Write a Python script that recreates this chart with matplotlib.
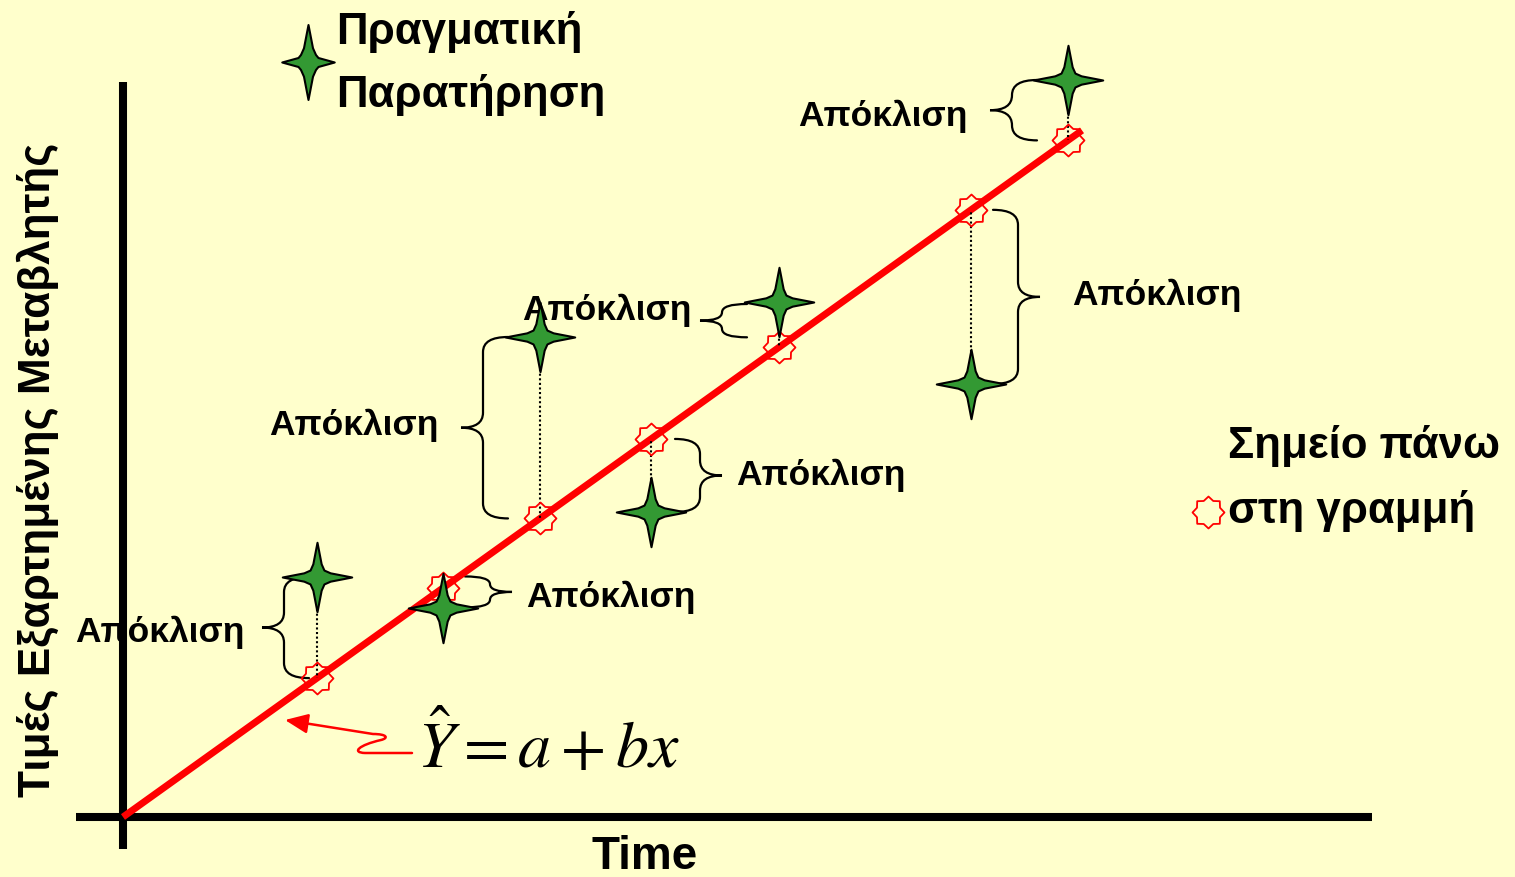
import matplotlib.pyplot as plt
import numpy as np
from matplotlib.path import Path
from matplotlib.patches import PathPatch, FancyArrowPatch

# Observations (time, actual value) and the fitted line Y = a + b x
time = [1.94, 3.20, 4.17, 5.28, 6.56, 8.48, 9.45]
actual = [2.40, 2.09, 4.80, 3.05, 5.15, 4.33, 7.37]
a = 0.0
b = 0.716
x_end = 9.59

# which side the brace sits on for each observation, and how far away
brace_side = ["left", "right", "left", "right", "left", "right", "left"]
brace_gap = [0.33, 0.47, 0.57, 0.49, 0.57, 0.47, 0.56]
label_gap = [0.17, 0.14, 0.22, 0.14, 0.08, 0.32, 0.22]
label_dy = [-0.05, -0.05, 0.02, 0.0, 0.10, 0.02, -0.06]
label = "Απόκλιση"

BG = "#FFFFCC"
GREEN = "#339933"
FONT = ["Liberation Sans", "DejaVu Sans"]

plt.rcParams["mathtext.fontset"] = "stix"


def star4(arm_x=1.0):
    verts = [(0, 1), (0.12, 0.38), (0.2, 0.2), (0.38 * arm_x, 0.12), (arm_x, 0),
             (0.38 * arm_x, -0.12), (0.2, -0.2), (0.12, -0.38), (0, -1),
             (-0.12, -0.38), (-0.2, -0.2), (-0.38 * arm_x, -0.12), (-arm_x, 0),
             (-0.38 * arm_x, 0.12), (-0.2, 0.2), (-0.12, 0.38), (0, 1)]
    codes = [Path.MOVETO] + [Path.LINETO] * (len(verts) - 2) + [Path.CLOSEPOLY]
    return Path(verts, codes)


line_marker = Path.unit_regular_star(8, 0.78)


def brace(ax, x0, y_top, y_bot, side, w=0.25, tip=0.22):
    d = -1 if side == "left" else 1
    r = min(0.15, (y_top - y_bot) / 4)
    ym = (y_top + y_bot) / 2
    verts = [
        (x0 - d * w, y_top), (x0, y_top), (x0, y_top - r),
        (x0, ym + r), (x0, ym), (x0 + d * tip, ym),
        (x0, ym), (x0, ym - r),
        (x0, y_bot + r), (x0, y_bot), (x0 - d * w, y_bot),
    ]
    codes = [Path.MOVETO, Path.CURVE3, Path.CURVE3,
             Path.LINETO, Path.CURVE3, Path.CURVE3,
             Path.CURVE3, Path.CURVE3,
             Path.LINETO, Path.CURVE3, Path.CURVE3]
    ax.add_patch(PathPatch(Path(verts, codes), fill=False, lw=1.6,
                           ec="black", zorder=3, capstyle="round"))
    return x0 + d * tip, ym


fig = plt.figure(figsize=(15.15, 8.77), dpi=100, facecolor=BG)
ax = fig.add_axes([0, 0, 1, 1])
ax.set_facecolor(BG)
ax.set_xlim(-1.23, 13.92)
ax.set_ylim(-0.60, 8.17)
ax.axis("off")

# axes drawn as thick black lines
ax.plot([-0.47, 12.49], [0, 0], color="black", lw=5.8, solid_capstyle="butt", zorder=3)
ax.plot([0, 0], [-0.32, 7.35], color="black", lw=5.8, solid_capstyle="butt", zorder=3)

time = np.array(time)
actual = np.array(actual)
pred = a + b * time

# regression line
ax.plot([0, x_end], [a, a + b * x_end], color="red", lw=5, solid_capstyle="butt", zorder=4)

# dotted deviation lines
for x, y, p in zip(time, actual, pred):
    ax.plot([x, x], [y, p], color="black", lw=1.5, ls=(0, (1, 1.2)), zorder=4.5)

ax.plot(time, pred, ls="none", marker=line_marker, ms=23, mfc="none",
        mec="red", mew=1.3, zorder=5)
ax.plot(time, actual, ls="none", marker=star4(), ms=50, mfc=GREEN,
        mec="black", mew=1.5, zorder=6)

# braces + labels
for i, (x, y, p, side) in enumerate(zip(time, actual, pred, brace_side)):
    top, bot = max(y, p), min(y, p)
    if top - bot < 0.31:
        mid = (top + bot) / 2 + 0.06
        top, bot = mid + 0.155, mid - 0.155
    if side == "left" and top - bot < 0.5:
        top, bot = top - 0.02, bot + 0.1
    off = -brace_gap[i] if side == "left" else brace_gap[i]
    tx, ty = brace(ax, x + off, top, bot, side)
    if side == "left":
        ax.text(tx - label_gap[i], ty + label_dy[i], label, ha="right", va="center",
                fontsize=25.5, fontweight="bold", family=FONT, zorder=2)
    else:
        ax.text(tx + label_gap[i], ty + label_dy[i], label, ha="left", va="center",
                fontsize=25.5, fontweight="bold", family=FONT, zorder=2)

# equation and arrow pointing at the line
ax.text(2.94, 0.49, r"$\hat{Y} = a + bx$", fontsize=47.5, ha="left", va="baseline",
        color="black")
arrow_path = Path(
    [(2.89, 0.64), (2.42, 0.64), (2.28, 0.645), (2.36, 0.72), (2.58, 0.77),
     (2.66, 0.79), (2.64, 0.83), (2.50, 0.83), (1.62, 0.97)],
    [Path.MOVETO, Path.LINETO, Path.CURVE4, Path.CURVE4, Path.CURVE4,
     Path.CURVE4, Path.CURVE4, Path.CURVE4, Path.LINETO])
ax.add_patch(FancyArrowPatch(path=arrow_path, arrowstyle="-|>,head_length=0.7,head_width=0.3",
                             mutation_scale=20, color="red", lw=1.8, zorder=4))

# legends
ax.plot([1.85], [7.55], ls="none", marker=star4(0.7), ms=54, mfc=GREEN,
        mec="black", mew=1.5)
ax.text(2.13, 7.85, "Πραγματική", fontsize=31.5, fontweight="bold", family=FONT,
        ha="left", va="center")
ax.text(2.13, 7.22, "Παρατήρηση", fontsize=31.5, fontweight="bold", family=FONT,
        ha="left", va="center")

ax.plot([10.85], [3.05], ls="none", marker=line_marker, ms=23, mfc="none",
        mec="red", mew=1.3)
ax.text(11.05, 3.71, "Σημείο πάνω", fontsize=31.5, fontweight="bold", family=FONT,
        ha="left", va="center")
ax.text(11.05, 3.06, "στη γραμμή", fontsize=31.5, fontweight="bold", family=FONT,
        ha="left", va="center")

# axis titles
ax.text(-0.85, 3.47, "Τιμές Εξαρτημένης Μεταβλητής", rotation=90, fontsize=31.8,
        fontweight="bold", family=FONT, ha="center", va="center")
ax.text(5.22, -0.52, "Time", fontsize=33, fontweight="bold", family=FONT,
        ha="center", va="baseline")

fig.savefig("out.png", dpi=100, facecolor=BG)
